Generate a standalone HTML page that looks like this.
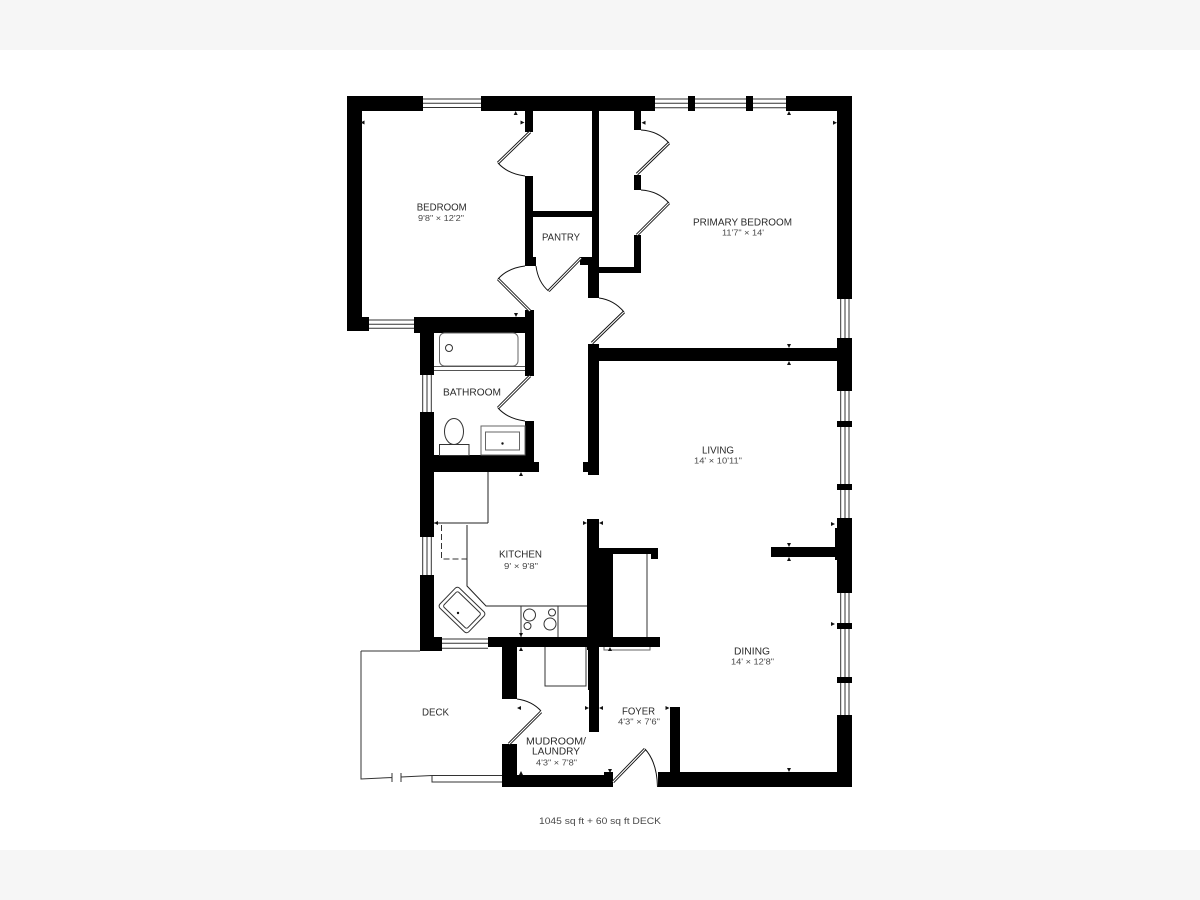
<!DOCTYPE html>
<html><head><meta charset="utf-8"><title>Floor plan</title>
<style>
html,body{margin:0;padding:0;background:#fff;width:1200px;height:900px;overflow:hidden}
svg{display:block}
text{font-family:"Liberation Sans",sans-serif;text-anchor:middle;fill:#2a2a2a}
.m{font-size:10px}.s{font-size:8px;fill:#484848}
</style></head><body>
<svg width="1200" height="900" viewBox="0 0 1200 900" xmlns="http://www.w3.org/2000/svg">
<rect width="1200" height="900" fill="#fff"/>
<rect width="1200" height="50" fill="#f6f6f6"/>
<rect y="850" width="1200" height="50" fill="#f6f6f6"/>

<g stroke="#333" stroke-width="1" fill="none">
<path d="M423 99H481M423 103.3H481M423 107.5H481"/>
<path d="M655 99H786M655 103.3H786M655 107.7H786"/>
<path d="M369 320H414M369 324.3H414M369 328.3H414"/>
<path d="M422.7 375V412M427 375V412M431.3 375V412"/>
<path d="M422.7 537V575M427 537V575M431.3 537V575"/>
<path d="M442 639H488M442 643.3H488M442 648.3H488"/>
<path d="M840.7 299V338M845 299V338M849 299V338"/>
<path d="M840.7 391V518M845 391V518M849 391V518"/>
<path d="M840.7 593V715M845 593V715M849 593V715"/>
</g>

<g fill="#000">
<rect x="347" y="96" width="76" height="15"/>
<rect x="481" y="96" width="174" height="15"/>
<rect x="688" y="96" width="7" height="15"/>
<rect x="746" y="96" width="7" height="15"/>
<rect x="786" y="96" width="66" height="15"/>
<rect x="347" y="96" width="15" height="235"/>
<rect x="347" y="317" width="22" height="14"/>
<rect x="414" y="317" width="120" height="16"/>
<rect x="525" y="111" width="8" height="21"/>
<rect x="525" y="176" width="8" height="90"/>
<rect x="533" y="257" width="3" height="9"/>
<rect x="592" y="111" width="7" height="160"/>
<rect x="533" y="211" width="59" height="6"/>
<rect x="580" y="257" width="12" height="8"/>
<rect x="588" y="265" width="11" height="33"/>
<rect x="599" y="267" width="42" height="6"/>
<rect x="634" y="235" width="7" height="38"/>
<rect x="634" y="175" width="7" height="15"/>
<rect x="634" y="111" width="7" height="19"/>
<rect x="837" y="96" width="15" height="203"/>
<rect x="837" y="338" width="15" height="53"/>
<rect x="837" y="421" width="15" height="6"/>
<rect x="837" y="484" width="15" height="6"/>
<rect x="837" y="518" width="15" height="75"/>
<rect x="837" y="623" width="15" height="6"/>
<rect x="837" y="677" width="15" height="6"/>
<rect x="837" y="715" width="15" height="72"/>
<rect x="835" y="528" width="2" height="32"/>
<rect x="771" y="547" width="66" height="10"/>
<rect x="599" y="348" width="238" height="13"/>
<rect x="588" y="344" width="11" height="131"/>
<rect x="583" y="462" width="5" height="10"/>
<rect x="525" y="310" width="9" height="66"/>
<rect x="420" y="317" width="14" height="58"/>
<rect x="420" y="412" width="14" height="125"/>
<rect x="420" y="575" width="14" height="76"/>
<rect x="420" y="637" width="22" height="14"/>
<rect x="434" y="455" width="100" height="17"/>
<rect x="525" y="421" width="9" height="41"/>
<rect x="534" y="462" width="5" height="10"/>
<rect x="587" y="519" width="12" height="131"/>
<rect x="599" y="548" width="14" height="89"/>
<rect x="599" y="548" width="59" height="6"/>
<rect x="651" y="548" width="7" height="11"/>
<rect x="488" y="637" width="172" height="10"/>
<rect x="502" y="647" width="15" height="52"/>
<rect x="588" y="647" width="11" height="43"/>
<rect x="589" y="690" width="10" height="42"/>
<rect x="502" y="744" width="15" height="43"/>
<rect x="502" y="775" width="111" height="12"/>
<rect x="604" y="772" width="9" height="4"/>
<rect x="658" y="772" width="194" height="15"/>
<rect x="670" y="707" width="10" height="66"/>
</g>

<g fill="none" stroke="#111" stroke-width="3">
<path d="M530 132L498 163"/><path d="M530 311L498 279"/><path d="M581 258L548.5 291"/>
<path d="M637 174L669 143"/><path d="M637 235L669 203"/><path d="M592 343L624 312"/>
<path d="M530 376L498 408"/><path d="M509 744L541 712"/><path d="M613 782L645 749"/>
</g>
<g fill="none" stroke="#fff" stroke-width="1.2">
<path d="M530 132L498 163"/><path d="M530 311L498 279"/><path d="M581 258L548.5 291"/>
<path d="M637 174L669 143"/><path d="M637 235L669 203"/><path d="M592 343L624 312"/>
<path d="M530 376L498 408"/><path d="M509 744L541 712"/><path d="M613 782L645 749"/>
</g>
<g fill="none" stroke="#111" stroke-width="1">
<path d="M498 163Q508 174 525 176"/><path d="M498 279Q508 268 525 266"/>
<path d="M536 266Q538 282 548.5 291"/><path d="M641 130Q658 131 669 143"/>
<path d="M641 190Q658 191 669 203"/><path d="M599 298Q614 300 624 312"/>
<path d="M498 408Q508 419 525 421"/><path d="M517 699Q532 701 541 711"/>
<path d="M645 749Q657 762 657.5 787"/>
</g>

<g fill="none" stroke="#333" stroke-width="1">
<rect x="439.5" y="333" width="78.5" height="33" rx="5" stroke="#666"/>
<circle cx="449" cy="348" r="3.5"/>
<path d="M434 366.5H525M434 370.5H525" stroke="#555"/>
<ellipse cx="454" cy="431.5" rx="9.5" ry="13"/>
<rect x="439.5" y="444.5" width="29.5" height="11" fill="#fff"/>
<rect x="481" y="426" width="44" height="29" stroke="#666"/>
<rect x="485.5" y="432" width="34" height="18" stroke="#666"/>
<path d="M488 472V523M434 523H488" stroke="#222"/>
<path d="M441.5 525V559H467" stroke-dasharray="6 3"/>
<path d="M467 525V586L486 606H587" stroke="#222"/>
<path d="M521 606V637M558 606V637"/>
<circle cx="529.5" cy="615" r="6"/><circle cx="552" cy="612.5" r="3.5"/>
<circle cx="527.5" cy="626" r="3.5"/><circle cx="550" cy="624" r="6"/>
<rect x="442" y="596" width="40" height="28" rx="3" transform="rotate(44 462 610)"/>
<rect x="445.5" y="599.5" width="33" height="21" rx="2" transform="rotate(44 462 610)"/>
<path d="M647 554V637"/>
<path d="M604 647V650H650V647" stroke="#666"/>
<path d="M545 647V686H586V647"/>
<path d="M361 651H420M361 651V779L392 777.5M392 773V782M401 773V782M401 777L432 775.5H502"/>
<path d="M432 775.5V782H502"/>
</g>
<circle cx="502.5" cy="443.5" r="1.2" fill="#111"/>
<circle cx="458" cy="613" r="1.2" fill="#111"/>

<g fill="#111">
<path d="M360.5 122.5l4-2v4z"/>
<path d="M515.7 111l-2 4h4z"/>
<path d="M524.5 122.5l-4-2v4z"/>
<path d="M516 317l-2-4h4z"/>
<path d="M641.5 122.7l4-2v4z"/>
<path d="M789 111l-2 4h4z"/>
<path d="M837 122.7l-4-2v4z"/>
<path d="M789 348l-2-4h4z"/>
<path d="M789 361l-2 4h4z"/>
<path d="M835 524l-4-2v4z"/>
<path d="M789 547l-2-4h4z"/>
<path d="M789 557l-2 4h4z"/>
<path d="M835 624l-4-2v4z"/>
<path d="M789 772l-2-4h4z"/>
<path d="M669.5 708l-4-2v4z"/>
<path d="M521 472l-2 4h4z"/>
<path d="M587 523l-4-2v4z"/>
<path d="M599 523l4-2v4z"/>
<path d="M434 523l4-2v4z"/>
<path d="M521 637l-2-4h4z"/>
<path d="M521 647l-2 4h4z"/>
<path d="M610 647l-2 4h4z"/>
<path d="M517 708l4-2v4z"/>
<path d="M589 708l-4-2v4z"/>
<path d="M599 708l4-2v4z"/>
<path d="M521 771l-2 4h4z"/>
<path d="M610 773l-2-4h4z"/>
</g>

<text class="m" x="441.7" y="210.3" textLength="50" lengthAdjust="spacingAndGlyphs">BEDROOM</text>
<text class="s" x="441" y="220.8" textLength="46" lengthAdjust="spacingAndGlyphs">9'8" × 12'2"</text>
<text class="m" x="561" y="240.6" textLength="38" lengthAdjust="spacingAndGlyphs">PANTRY</text>
<text class="m" x="742.5" y="225.3" textLength="99" lengthAdjust="spacingAndGlyphs">PRIMARY BEDROOM</text>
<text class="s" x="743" y="235.5" textLength="42" lengthAdjust="spacingAndGlyphs">11'7" × 14'</text>
<text class="m" x="472" y="395.3" textLength="58" lengthAdjust="spacingAndGlyphs">BATHROOM</text>
<text class="m" x="718" y="453.6" textLength="32" lengthAdjust="spacingAndGlyphs">LIVING</text>
<text class="s" x="718" y="463.5" textLength="48" lengthAdjust="spacingAndGlyphs">14' × 10'11"</text>
<text class="m" x="752" y="654.6" textLength="36" lengthAdjust="spacingAndGlyphs">DINING</text>
<text class="s" x="752.5" y="664.5" textLength="43" lengthAdjust="spacingAndGlyphs">14' × 12'8"</text>
<text class="m" x="520.5" y="557.6" textLength="43" lengthAdjust="spacingAndGlyphs">KITCHEN</text>
<text class="s" x="521" y="568.8" textLength="34" lengthAdjust="spacingAndGlyphs">9' × 9'8"</text>
<text class="m" x="435.5" y="715.3" textLength="27" lengthAdjust="spacingAndGlyphs">DECK</text>
<text class="m" x="638.5" y="714.3" textLength="33" lengthAdjust="spacingAndGlyphs">FOYER</text>
<text class="s" x="639" y="724.5" textLength="42" lengthAdjust="spacingAndGlyphs">4'3" × 7'6"</text>
<text class="m" x="556" y="744.6" textLength="60" lengthAdjust="spacingAndGlyphs">MUDROOM/</text>
<text class="m" x="556" y="754.6" textLength="48" lengthAdjust="spacingAndGlyphs">LAUNDRY</text>
<text class="s" x="556.5" y="765.5" textLength="41" lengthAdjust="spacingAndGlyphs">4'3" × 7'8"</text>
<text class="s" x="600" y="824" textLength="122" lengthAdjust="spacingAndGlyphs" style="font-size:9px">1045 sq ft + 60 sq ft DECK</text>
</svg>
</body></html>
